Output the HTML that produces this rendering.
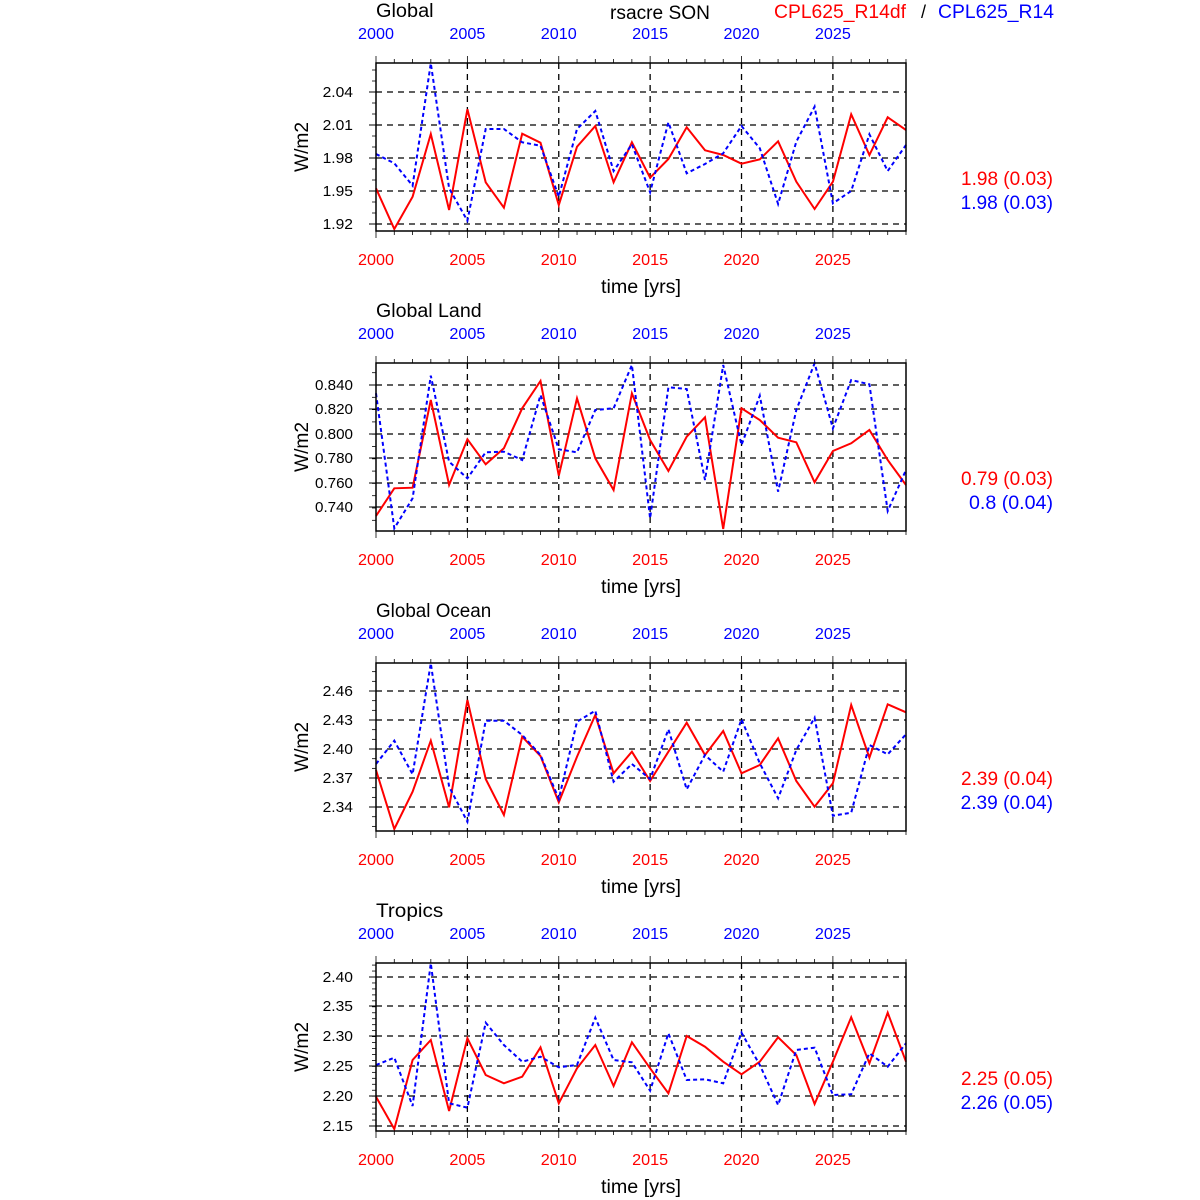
<!DOCTYPE html>
<html><head><meta charset="utf-8"><style>body{margin:0;background:#fff}svg{display:block}text{font-family:"Liberation Sans",sans-serif}</style></head>
<body><svg id="s" width="1200" height="1200" xmlns="http://www.w3.org/2000/svg"></svg>
<script>
const S=document.getElementById('s');let h='';
const X0=376,X1=906,dx=530/29;
const LA='lengthAdjust="spacingAndGlyphs"';
const P=[
{t:'Global',off:0,base:55,
ticks:[[92,'2.04'],[125,'2.01'],[158,'1.98'],[191,'1.95'],[224,'1.92']],minor:11,
r:[400,522,425,237,465,163,382,458,236,263,450,275,213,382,262,368,312,217,286,300,326,313,259,380,462,380,178,300,187,225],
b:[297,325,392,25,400,497,222,222,262,272,425,222,168,348,268,412,202,355,327,295,213,280,447,260,155,445,408,238,348,270],
s1:'1.98 (0.03)',s2:'1.98 (0.03)'},
{t:'Global Land',off:300,base:355,
ticks:[[385,'0.840'],[409,'0.820'],[434,'0.800'],[458,'0.780'],[483,'0.760'],[507,'0.740']],minor:12.3,
r:[483,400,398,135,390,253,328,280,160,78,362,130,310,405,115,255,348,245,187,522,160,195,248,262,382,288,265,225,315,390],
b:[115,520,430,62,320,370,292,290,315,120,283,292,165,160,30,490,97,102,375,30,270,122,410,165,25,220,75,88,468,345],
s1:'0.79 (0.03)',s2:'0.8 (0.04)'},
{t:'Global Ocean',off:600,base:655,
ticks:[[691,'2.46'],[720,'2.43'],[749,'2.40'],[778,'2.37'],[807,'2.34']],minor:9.67,
r:[345,522,410,257,457,135,372,480,245,303,442,305,180,355,290,378,290,203,300,228,355,330,250,378,455,385,150,308,148,172],
b:[327,257,358,25,395,500,197,197,240,300,432,200,167,380,327,372,223,403,300,350,193,325,430,285,188,482,473,270,298,238],
s1:'2.39 (0.04)',s2:'2.39 (0.04)'},
{t:'Tropics',off:900,base:955,
ticks:[[977,'2.40'],[1006,'2.35'],[1036,'2.30'],[1066,'2.25'],[1096,'2.20'],[1126,'2.15']],minor:5.96,
r:[425,522,315,255,468,250,360,385,365,277,445,340,270,393,262,340,415,243,275,320,358,320,247,300,447,320,187,325,173,320],
b:[330,308,453,25,445,458,203,270,320,305,337,330,188,315,322,407,235,375,373,385,233,330,450,285,278,420,418,295,335,265],
s1:'2.25 (0.05)',s2:'2.26 (0.05)'}];
h+=`<text x="660" y="19" font-size="19" text-anchor="middle" textLength="100" ${LA}>rsacre SON</text>`;
h+=`<text x="774" y="18" font-size="19" fill="#f00" textLength="132" ${LA}>CPL625_R14df</text>`;
h+='<text x="921" y="18" font-size="18">/</text>';
h+=`<text x="938" y="18" font-size="19" fill="#00f" textLength="116" ${LA}>CPL625_R14</text>`;
P.forEach(p=>{const o=p.off,T=63+o,B=231+o;
h+=`<text x="376" y="${17+o}" font-size="19" textLength="${p.t.length*9.6}" ${LA}>${p.t}</text>`;
for(let k=5;k<29;k+=5){const x=X0+k*dx;h+=`<line x1="${x}" y1="${T}" x2="${x}" y2="${B}" stroke="#000" stroke-dasharray="6,5" stroke-width="1.3"/>`;}
p.ticks.forEach(t=>{h+=`<line x1="${X0}" y1="${t[0]}" x2="${X1}" y2="${t[0]}" stroke="#000" stroke-dasharray="6,5" stroke-width="1.3"/>`;
h+=`<line x1="${X0-7}" y1="${t[0]}" x2="${X0}" y2="${t[0]}" stroke="#000"/>`;
h+=`<text x="${X0-23}" y="${t[0]+5}" font-size="15" text-anchor="end" textLength="${t[1].length*7.6}" ${LA}>${t[1]}</text>`;});
const y0=p.ticks[0][0];for(let y=y0;y<B;y+=p.minor)h+=`<line x1="${X0-4}" y1="${y}" x2="${X0}" y2="${y}" stroke="#000" stroke-width=".8"/>`;
for(let y=y0-p.minor;y>T;y-=p.minor)h+=`<line x1="${X0-4}" y1="${y}" x2="${X0}" y2="${y}" stroke="#000" stroke-width=".8"/>`;
for(let k=0;k<30;k++){const x=X0+k*dx,L=k%5==0?7:4;
h+=`<line x1="${x}" y1="${T-L}" x2="${x}" y2="${T}" stroke="#000" stroke-width=".8"/><line x1="${x}" y1="${B}" x2="${x}" y2="${B+L}" stroke="#000" stroke-width=".8"/>`;
if(k%5==0){h+=`<text x="${x}" y="${39+o}" font-size="16" fill="#00f" text-anchor="middle" textLength="36" ${LA}>${2000+k}</text>`;
h+=`<text x="${x}" y="${265+o}" font-size="16" fill="#f00" text-anchor="middle" textLength="36" ${LA}>${2000+k}</text>`;}}
const pts=a=>a.map((z,i)=>`${(X0+i*dx).toFixed(1)},${(p.base+z/3).toFixed(1)}`).join(' ');
h+=`<polyline points="${pts(p.r)}" fill="none" stroke="#f00" stroke-width="2"/>`;
h+=`<polyline points="${pts(p.b)}" fill="none" stroke="#00f" stroke-width="2" stroke-dasharray="4,3"/>`;
h+=`<rect x="${X0}" y="${T}" width="530" height="168" fill="none" stroke="#000" stroke-width="1.5"/>`;
h+=`<text x="641" y="${293+o}" font-size="19" text-anchor="middle" textLength="80" ${LA}>time [yrs]</text>`;
h+=`<text transform="translate(308,${147+o}) rotate(-90)" font-size="19" text-anchor="middle" textLength="50" ${LA}>W/m2</text>`;
h+=`<text x="1053" y="${185+o}" font-size="19" fill="#f00" text-anchor="end" textLength="92" ${LA}>${p.s1}</text>`;
h+=`<text x="1053" y="${209+o}" font-size="19" fill="#00f" text-anchor="end" textLength="${p.s2.length*8.4}" ${LA}>${p.s2}</text>`;
});
S.innerHTML=h;
</script></body></html>
